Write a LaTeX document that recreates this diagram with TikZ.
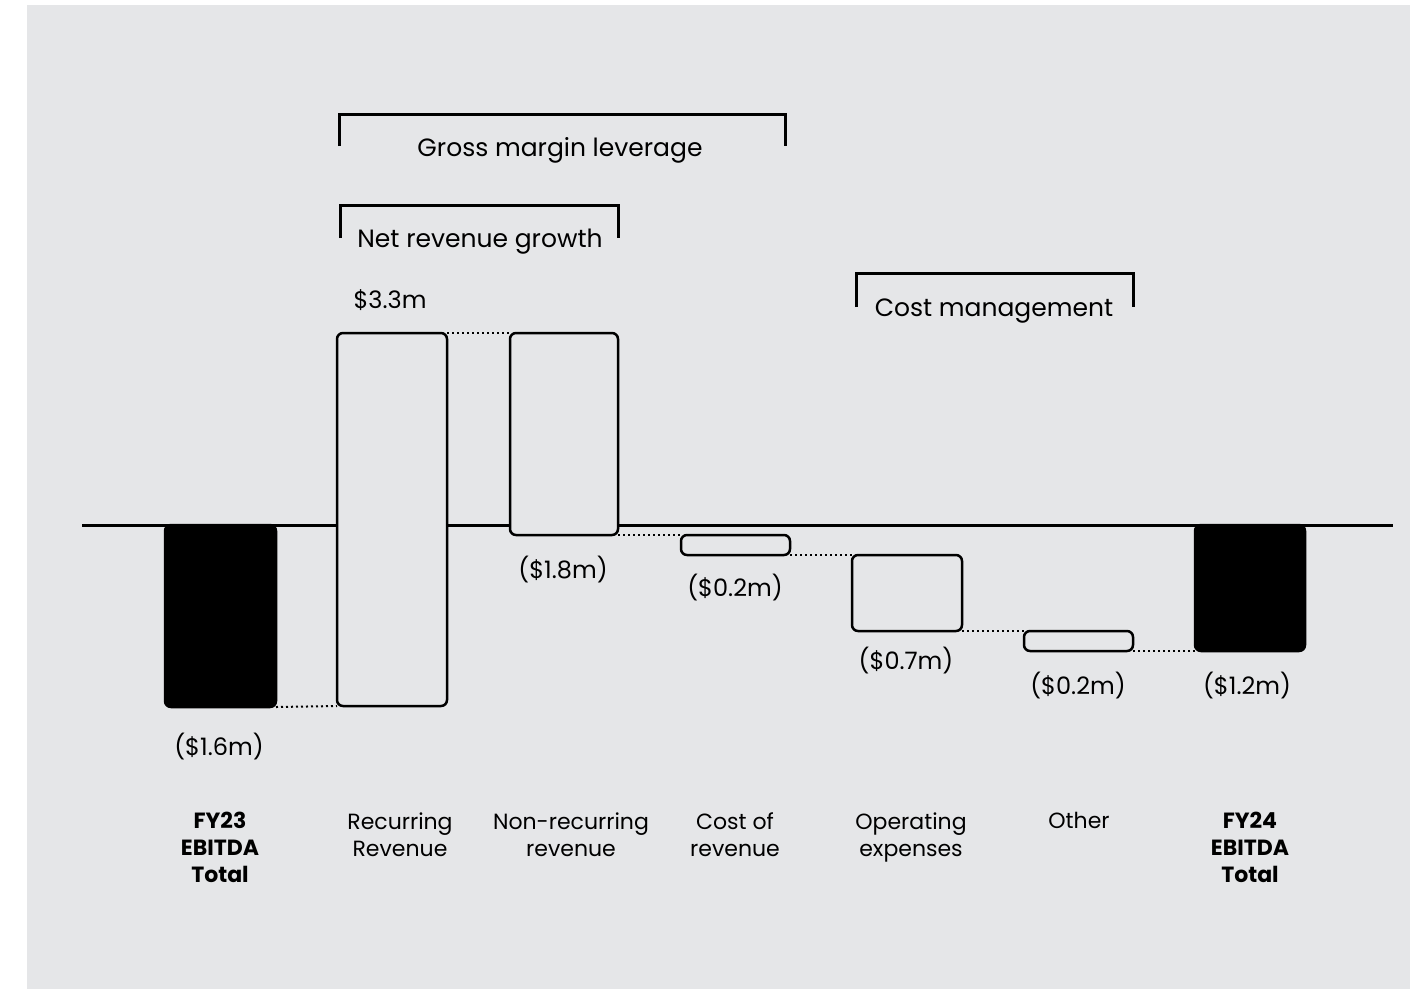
\documentclass[tikz,border=0pt]{standalone}
\usepackage{fontspec}
\setmainfont{Poppins}
\usetikzlibrary{positioning}
\definecolor{panel}{RGB}{229,230,232}

\begin{document}
\begin{tikzpicture}[x=1pt, y=-1pt,
    bar/.style={draw=black, fill=panel, line width=2.5pt, rounded corners=6pt, inner sep=0pt, outer sep=0pt, anchor=north west},
    total/.style={bar, fill=black},
    link/.style={black, line width=2pt, dash pattern=on 2pt off 3pt},
    bracket/.style={line width=3pt, black},
    val/.style={font=\fontsize{24}{28}\selectfont},
    cat/.style={font=\fontsize{22}{27}\selectfont, align=center, anchor=north},
    head/.style={font=\fontsize{25}{29}\selectfont}]
  \useasboundingbox (0,0) rectangle (1410,989);
  \fill[panel] (27,5) rectangle (1410,989);

  % axis
  \draw[line width=3pt] (82,525) -- (1393,525);

  % bars
  \node[total, minimum width=111pt, minimum height=182pt] (fy23) at (165,525) {};
  \node[bar, minimum width=110pt, minimum height=373pt] (rec) at (337,333) {};
  \node[bar, minimum width=108pt, minimum height=202pt] (nonrec) at (510,333) {};
  \node[bar, minimum width=109pt, minimum height=20pt] (cor) at (681,535) {};
  \node[bar, minimum width=110pt, minimum height=76pt] (opex) at (852,555) {};
  \node[bar, minimum width=109pt, minimum height=20pt] (other) at (1024,631) {};
  \node[total, minimum width=110pt, minimum height=126pt] (fy24) at (1195,525) {};

  % dotted links
  \draw[link] (fy23.south east) -- (rec.south west);
  \draw[link] (rec.north east) -- (nonrec.north west);
  \draw[link] (nonrec.south east) -- (cor.north west);
  \draw[link] (cor.south east) -- (opex.north west);
  \draw[link] (opex.south east) -- (other.north west);
  \draw[link] (other.south east) -- (fy24.south west);

  % values
  \node[val] (v1) at (219,747) {(\$1.6m)};
  \node[val, anchor=west] (v2) at (350,300) {\$3.3m};
  \node[val] (v3) at (563,570) {(\$1.8m)};
  \node[val] (v4) at (735,588) {(\$0.2m)};
  \node[val] (v5) at (906,661) {(\$0.7m)};
  \node[val] (v6) at (1078,686) {(\$0.2m)};
  \node[val] (v7) at (1247,686) {(\$1.2m)};

  % categories
  \node[cat] (c1) at (220,809) {\bfseries FY23\\\bfseries EBITDA\\\bfseries Total};
  \node[cat] (c2) at (400,809) {Recurring\\Revenue};
  \node[cat] (c3) at (571,809) {Non-recurring\\revenue};
  \node[cat] (c4) at (735,809) {Cost of\\revenue};
  \node[cat] (c5) at (911,809) {Operating\\expenses};
  \node[cat] (c6) at (1079,809) {Other};
  \node[cat] (c7) at (1250,809) {\bfseries FY24\\\bfseries EBITDA\\\bfseries Total};

  % brackets
  \draw[bracket] (339,146) |- (785,114) -- (785,146);
  \node[head] (gm) at (560,150) {Gross margin leverage};
  \draw[bracket] (340,238) |- (618,205) -- (618,238);
  \node[head] (nrg) at (480,242) {Net revenue growth};
  \draw[bracket] (856,307) |- (1133,273) -- (1133,307);
  \node[head] (cm) at (994,311) {Cost management};
\end{tikzpicture}
\end{document}
